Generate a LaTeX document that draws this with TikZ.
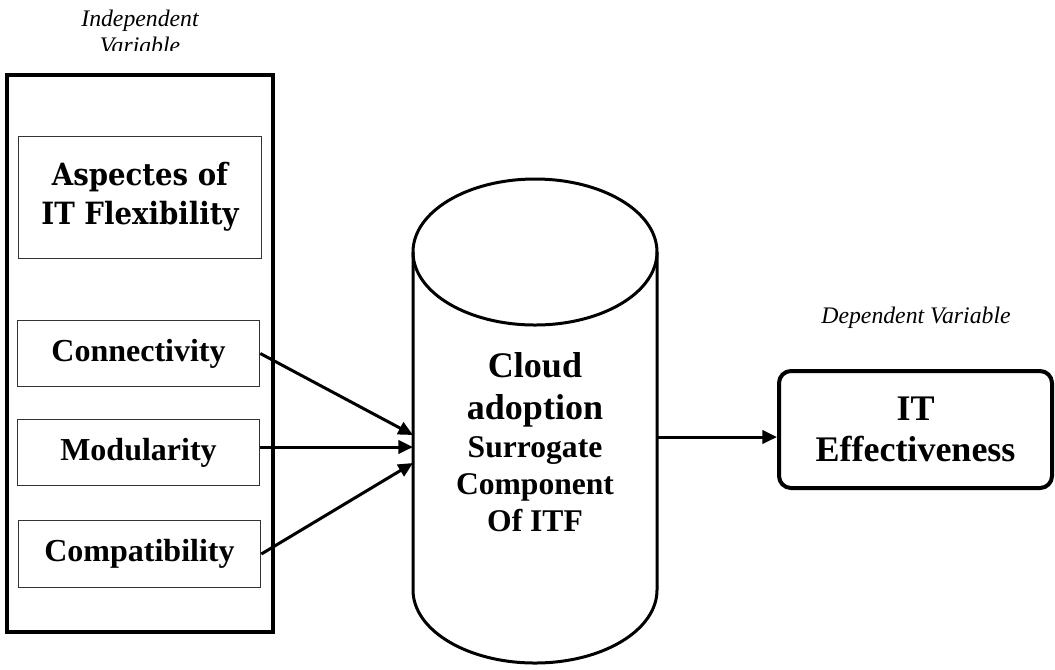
\documentclass[tikz,border=0pt]{standalone}
\usepackage{fontspec}
\setmainfont{Liberation Serif}
\newfontfamily\aspfont{DejaVu Serif Condensed}
\usetikzlibrary{arrows.meta}

\begin{document}
\begin{tikzpicture}[x=0.75pt,y=0.75pt,
  >={Triangle[length=11pt,width=10pt]},
  factor/.style={draw=black!80,line width=0.75pt,minimum width=182pt,minimum height=50pt,inner sep=0pt,
    font=\bfseries\fontsize{24}{28}\selectfont},
  varlabel/.style={font=\itshape\fontsize{17.8}{20.5}\selectfont,align=center,inner sep=0pt}]
\useasboundingbox (0,0) rectangle (1055,-669);
% independent side
\begin{scope}
\clip (0,0) rectangle (300,-50);
\node[varlabel] (indlab) at (140,-32) {Independent\\Variable};
\end{scope}
\node[draw,line width=3pt,minimum width=199.5pt,minimum height=417.75pt,inner sep=0pt] (indep) at (140,-353.5) {};
\node[factor,minimum height=91.5pt,font=\aspfont\bfseries\fontsize{23}{29.5}\selectfont,align=center] (asp) at (140,-197) {Aspectes of\\IT Flexibility};
\node[factor] (conn) at (138.5,-353.5) {Connectivity};
\node[factor] (mod) at (138.5,-452.5) {Modularity};
\node[factor] (comp) at (139.5,-554) {Compatibility};
% the cylinder
\draw[line width=2.25pt] (535,-252) ellipse [x radius=122,y radius=73];
\draw[line width=2.25pt] (413,-252) -- (413,-590) arc[start angle=180,end angle=360,x radius=122,y radius=73] -- (657,-252);
\node[align=center,inner sep=0pt,font=\bfseries\fontsize{27}{32}\selectfont] (cloud) at (535,-442)
  {Cloud\\adoption\\[-4pt]{\fontsize{23.7}{27}\selectfont Surrogate}\\[-4pt]{\fontsize{23.7}{27}\selectfont Component}\\[-4pt]{\fontsize{23.7}{27}\selectfont Of ITF}};
\coordinate (c1) at (413,-435);
\coordinate (c2) at (413,-447);
\coordinate (c3) at (413,-463);
\coordinate (cout) at (657,-437);
% dependent side
\node[varlabel] (deplab) at (916,-318) {Dependent Variable};
\node[draw,line width=3pt,rounded corners=9pt,minimum width=204.75pt,minimum height=87.75pt,align=center,
  font=\bfseries\fontsize{27}{31}\selectfont] (ite) at (915.5,-429.5) {IT\\Effectiveness};
\draw[->,line width=2.25pt] (conn.east)--(c1);
\draw[->,line width=2.25pt] (mod.east|-c2)--(c2);
\draw[->,line width=2.25pt] (comp.east)--(c3);
\draw[->,line width=2.25pt] (cout)--(ite.west|-cout);
\end{tikzpicture}
\end{document}
